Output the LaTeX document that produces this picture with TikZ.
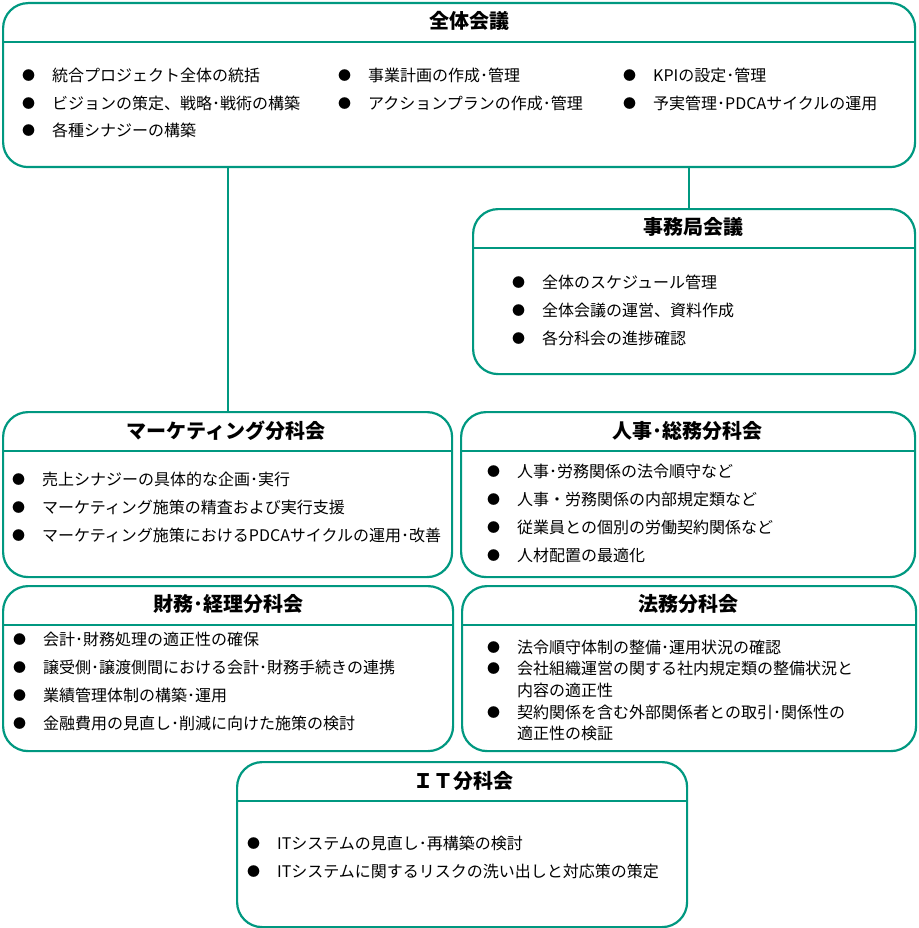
\documentclass[tikz,border=0pt]{standalone}
\usepackage{fontspec}
\setmainfont{Noto Sans CJK JP}
\definecolor{tealc}{RGB}{0,152,128}
\newcommand\bulitem[1]{\makebox[30pt][l]{\raisebox{0.8pt}{\fontsize{13}{13}\selectfont ●}}#1}
\begin{document}
\begin{tikzpicture}[x=1pt,y=-1pt,
  box/.style={draw=tealc, line width=2.2pt, rounded corners=25pt, anchor=north west, inner sep=0pt, minimum height=165pt},
  div/.style={draw=tealc, line width=2pt},
  link/.style={draw=tealc, line width=2pt},
  ttl/.style={font=\fontsize{20}{20}\selectfont\bfseries, inner sep=0pt},
  itm/.style={anchor=west, inner sep=0pt, font=\fontsize{16}{16}\selectfont}]
\useasboundingbox (0,0) rectangle (918,928);

% boxes
\node[box, minimum width=912pt, minimum height=164pt] (all) at (2,2) {};
\node[box, minimum width=442pt] (sec) at (472,208) {};
\node[box, minimum width=449pt] (mkt) at (2,411) {};
\node[box, minimum width=454pt] (hr)  at (460,411) {};
\node[box, minimum width=450pt] (fin) at (2,585) {};
\node[box, minimum width=454pt] (law) at (461,585) {};
\node[box, minimum width=450pt] (it)  at (236,761) {};

% dividers
\foreach \b in {all,sec,mkt,hr,fin,law,it}{
  \draw[div] ([yshift=-40pt]\b.north west) -- ([yshift=-40pt]\b.north east);
}

% connectors
\draw[link] (all.south -| mkt.north) -- (mkt.north);
\draw[link] ([xshift=-5pt]sec.north |- all.south) -- ([xshift=-5pt]sec.north);

% titles
\node[ttl] (allT) at (469,21) {全体会議};
\node[ttl] (secT) at (693,227) {事務局会議};
\node[ttl] (mktT) at (226,431) {マーケティング分科会};
\node[ttl] (hrT)  at (687,431) {人事･総務分科会};
\node[ttl] (finT) at (228,604) {財務･経理分科会};
\node[ttl] (lawT) at (688,604) {法務分科会};
\node[ttl] (itT)  at (463,781) {ＩＴ分科会};

% 全体会議 items
\node[itm] (a1) at (22,75)  {\bulitem{統合プロジェクト全体の統括}};
\node[itm] (a2) at (22,103) {\bulitem{ビジョンの策定、戦略･戦術の構築}};
\node[itm] (a3) at (22,130) {\bulitem{各種シナジーの構築}};
\node[itm] (a4) at (338,75)  {\bulitem{事業計画の作成･管理}};
\node[itm] (a5) at (338,103) {\bulitem{アクションプランの作成･管理}};
\node[itm] (a6) at (623,75)  {\bulitem{KPIの設定･管理}};
\node[itm] (a7) at (623,103) {\bulitem{予実管理･PDCAサイクルの運用}};

% 事務局会議 items
\node[itm] (s1) at (512,282) {\bulitem{全体のスケジュール管理}};
\node[itm] (s2) at (512,310) {\bulitem{全体会議の運営、資料作成}};
\node[itm] (s3) at (512,338) {\bulitem{各分科会の進捗確認}};

% マーケティング分科会 items
\node[itm] (m1) at (12,479) {\bulitem{売上シナジーの具体的な企画･実行}};
\node[itm] (m2) at (12,507) {\bulitem{マーケティング施策の精査および実行支援}};
\node[itm] (m3) at (12,535) {\bulitem{マーケティング施策におけるPDCAサイクルの運用･改善}};

% 人事・総務分科会 items
\node[itm] (h1) at (487,471) {\bulitem{人事･労務関係の法令順守など}};
\node[itm] (h2) at (487,499) {\bulitem{人事・労務関係の内部規定類など}};
\node[itm] (h3) at (487,527) {\bulitem{従業員との個別の労働契約関係など}};
\node[itm] (h4) at (487,555) {\bulitem{人材配置の最適化}};

% 財務・経理分科会 items
\node[itm] (f1) at (13,639) {\bulitem{会計･財務処理の適正性の確保}};
\node[itm] (f2) at (13,667) {\bulitem{譲受側･譲渡側間における会計･財務手続きの連携}};
\node[itm] (f3) at (13,695) {\bulitem{業績管理体制の構築･運用}};
\node[itm] (f4) at (13,723) {\bulitem{金融費用の見直し･削減に向けた施策の検討}};

% 法務分科会 items
\node[itm] (l1) at (487,647) {\bulitem{法令順守体制の整備･運用状況の確認}};
\node[itm] (l2) at (487,668) {\bulitem{会社組織運営の関する社内規定類の整備状況と}};
\node[itm] (l2b) at (517,690) {内容の適正性};
\node[itm] (l3) at (487,712) {\bulitem{契約関係を含む外部関係者との取引･関係性の}};
\node[itm] (l3b) at (517,733) {適正性の検証};

% IT分科会 items
\node[itm] (i1) at (247,843) {\bulitem{ITシステムの見直し･再構築の検討}};
\node[itm] (i2) at (247,871) {\bulitem{ITシステムに関するリスクの洗い出しと対応策の策定}};
\end{tikzpicture}
\end{document}
